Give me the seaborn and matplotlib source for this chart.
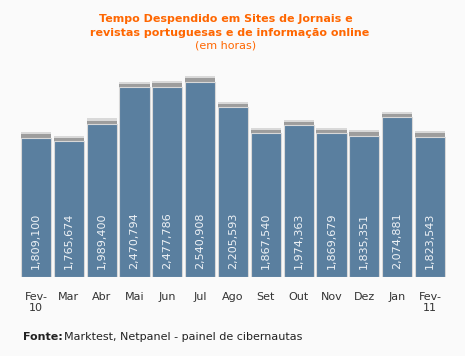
import matplotlib.pyplot as plt
import matplotlib.patheffects as pe
import pandas as pd
import seaborn as sns

# data
months = ['Fev-\n10', 'Mar', 'Abr', 'Mai', 'Jun', 'Jul', 'Ago', 'Set', 'Out',
          'Nov', 'Dez', 'Jan', 'Fev-\n11']
hours = [1809100, 1765674, 1989400, 2470794, 2477786, 2540908, 2205593,
         1867540, 1974363, 1869679, 1835351, 2074881, 1823543]

df = pd.DataFrame({'mes': months, 'horas': hours})

sns.set_style('white')
plt.rcParams['font.family'] = ['DejaVu Sans']

bg = '#fafafa'
fig = plt.figure(figsize=(4.65, 3.56), dpi=100, facecolor=bg)
ax = fig.add_axes([19.7 / 465, 79.3 / 356, 426.6 / 465, 216.7 / 356])
ax.set_facecolor(bg)

sns.barplot(data=df, x='mes', y='horas', color='#5a7f9f', width=0.92,
            saturation=1, ax=ax, edgecolor='#d8d8d8', linewidth=0.8)

# soft grey shadow on top of each bar
for p in ax.patches:
    p.set_path_effects([
        pe.SimplePatchShadow(offset=(0, 4), shadow_rgbFace='#c4c4c4', alpha=0.6),
        pe.SimplePatchShadow(offset=(0, 2.5), shadow_rgbFace='#8f8f8f', alpha=0.8),
        pe.Normal(),
    ])

ax.set_xlim(-0.5, len(months) - 0.5)
ax.set_ylim(0, 2823700)

# value labels inside the bars
label_y = 2823700 * 8 / 216.7
for i, v in enumerate(hours):
    ax.text(i, label_y, f'{v:,}', rotation=90, ha='center', va='bottom',
            color='#eef2f6', fontsize=8)

ax.set_xlabel('')
ax.set_ylabel('')
ax.set_yticks([])
ax.tick_params(axis='x', length=0, pad=11, labelsize=8, labelcolor='#333333')
for lbl in ax.get_xticklabels():
    lbl.set_linespacing(1.1)
    lbl.set_verticalalignment('top')
sns.despine(ax=ax, left=True, bottom=True)

fig.text(226 / 465, 1 - 19 / 356, 'Tempo Despendido em Sites de Jornais e',
         ha='center', va='center', color='#ff6600', fontsize=8, fontweight='bold')
fig.text(230 / 465, 1 - 33 / 356, 'revistas portuguesas e de informação online',
         ha='center', va='center', color='#ff6600', fontsize=8, fontweight='bold')
fig.text(226 / 465, 1 - 45.5 / 356, '(em horas)',
         ha='center', va='center', color='#ff6600', fontsize=8)

fig.text(23 / 465, 1 - 337 / 356, 'Fonte:', ha='left', va='center',
         color='#222222', fontsize=8, fontweight='bold')
fig.text(64 / 465, 1 - 337 / 356, 'Marktest, Netpanel - painel de cibernautas',
         ha='left', va='center', color='#222222', fontsize=8)

fig.savefig('out.png', dpi=100, facecolor=bg)
